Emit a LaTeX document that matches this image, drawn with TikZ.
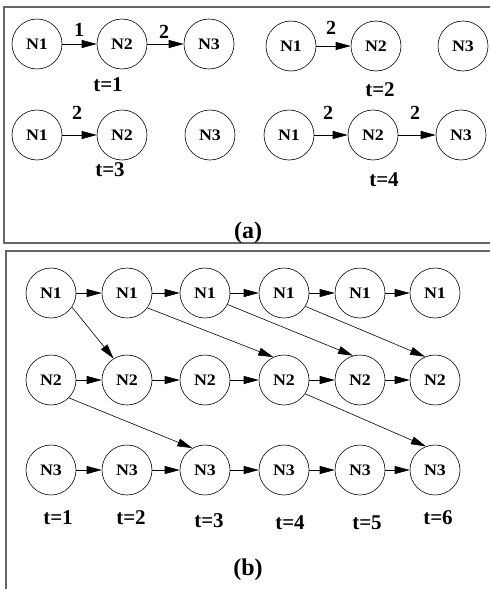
\documentclass[tikz,border=0pt]{standalone}
\usepackage{fontspec}
\setmainfont{Liberation Serif}
\newfontfamily\nfont{Liberation Serif}[FakeStretch=1.12]
\usetikzlibrary{arrows.meta}
\begin{document}
\begin{tikzpicture}[x=1pt,y=-1pt,
  nd/.style={circle,draw,line width=0.6pt,minimum size=50pt,inner sep=0pt,font=\nfont\fontsize{16}{16}\selectfont\bfseries},
  tl/.style={font=\fontsize{21}{21}\selectfont\bfseries,inner sep=0pt},
  el/.style={font=\fontsize{20}{20}\selectfont\bfseries,inner sep=0pt},
  pl/.style={font=\fontsize{24}{24}\selectfont\bfseries,inner sep=0pt},
  ar/.style={-{Triangle[length=15pt,width=8pt]},line width=0.6pt},
  fr/.style={draw=black!60,line width=1.2pt}]
\useasboundingbox (0,0) rectangle (490,589);
% frames
\draw[fr] (490,7) -- (4,7) -- (4,243) -- (490,243);
\draw[fr] (490,251) -- (6,251) -- (6,589);
% ---- panel (a)
\node[nd] (a1) at (37,44) {N1};
\node[nd] (a2) at (122,44) {N2};
\node[nd] (a3) at (209,44) {N3};
\node[nd] (b1) at (291,46) {N1};
\node[nd] (b2) at (376,46) {N2};
\node[nd] (b3) at (463,46) {N3};
\node[nd] (c1) at (37,135) {N1};
\node[nd] (c2) at (122,135) {N2};
\node[nd] (c3) at (210,135) {N3};
\node[nd] (d1) at (289,135) {N1};
\node[nd] (d2) at (373,135) {N2};
\node[nd] (d3) at (461,135) {N3};
\draw[ar] (a1) -- (a2);
\draw[ar] (a2) -- (a3);
\draw[ar] (b1) -- (b2);
\draw[ar] (c1) -- (c2);
\draw[ar] (d1) -- (d2);
\draw[ar] (d2) -- (d3);
\node[el] (la1) at (79,30) {1};
\node[el] (la2) at (164,32) {2};
\node[el] (lb1) at (331,28) {2};
\node[el] (lc1) at (77,113) {2};
\node[el] (ld1) at (328,113) {2};
\node[el] (ld2) at (415,113) {2};
\node[tl] (ta1) at (108,85) {t=1};
\node[tl] (ta2) at (380,90) {t=2};
\node[tl] (ta3) at (110,170) {t=3};
\node[tl] (ta4) at (384,180) {t=4};
\node[pl] (pa) at (248,233) {(a)};
% ---- panel (b)
\foreach \i/\x in {1/51,2/127,3/205,4/284,5/360,6/435} {
  \node[nd] (p\i) at (\x,293) {N1};
  \node[nd] (q\i) at (\x,380) {N2};
  \node[nd] (r\i) at (\x,470) {N3};
}
\foreach \i/\j in {1/2,2/3,3/4,4/5,5/6} {
  \draw[ar] (p\i) -- (p\j);
  \draw[ar] (q\i) -- (q\j);
  \draw[ar] (r\i) -- (r\j);
}
\draw[ar] (p1.-34) -- (q2.122);
\draw[ar] (p2.-36) -- (q4.115);
\draw[ar] (p3.-27) -- (q5.106);
\draw[ar] (p4.-32) -- (q6.113);
\draw[ar] (q1.-45) -- (r3.120);
\draw[ar] (q4.-33) -- (r6.111);
\node[tl] (tb1) at (58,518) {t=1};
\node[tl] (tb2) at (131,518) {t=2};
\node[tl] (tb3) at (209,521) {t=3};
\node[tl] (tb4) at (290,523) {t=4};
\node[tl] (tb5) at (367,523) {t=5};
\node[tl] (tb6) at (438,518) {t=6};
\node[pl] (pb) at (248,570) {(b)};
\end{tikzpicture}
\end{document}
